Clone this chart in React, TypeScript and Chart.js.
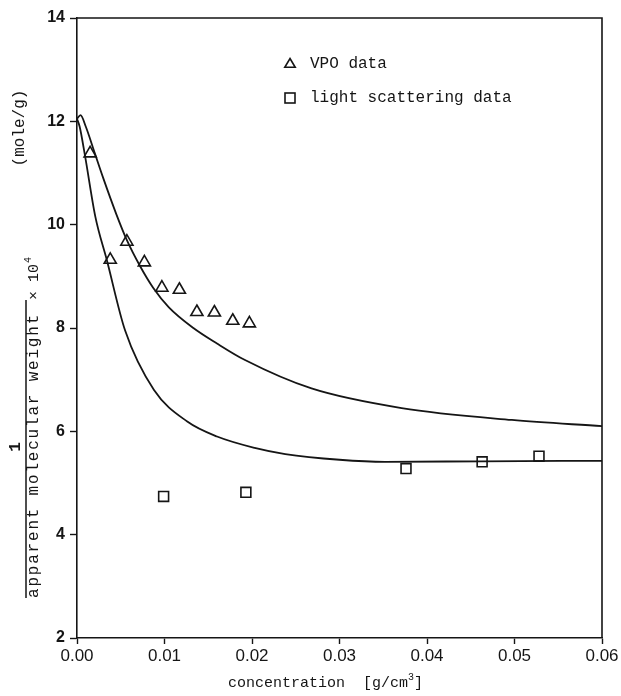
import React, { useEffect, useRef } from "react";
import { Chart, registerables } from "chart.js";

Chart.register(...registerables);

// ---- data ----
const xTickValues = [0, 0.01, 0.02, 0.03, 0.04, 0.05, 0.06];
const yTickValues = [2, 4, 6, 8, 10, 12, 14];

const vpoConc = [0.0015, 0.0038, 0.0057, 0.0077, 0.0097, 0.0117, 0.0137, 0.0157, 0.0178, 0.0197];
const vpoInvMw = [11.38, 9.32, 9.67, 9.27, 8.78, 8.74, 8.31, 8.3, 8.14, 8.09];

const lsConc = [0.0099, 0.0193, 0.0376, 0.0463, 0.0528];
const lsInvMw = [4.74, 4.82, 5.28, 5.41, 5.52];

const upperConc = [0, 0.0004, 0.001, 0.002, 0.003, 0.0045, 0.0057, 0.0072, 0.0087, 0.0105, 0.0133, 0.016, 0.0192, 0.0268, 0.0371, 0.0497, 0.06];
const upperInvMw = [12.05, 12.12, 11.9, 11.4, 10.9, 10.2, 9.7, 9.2, 8.78, 8.4, 8.0, 7.7, 7.38, 6.83, 6.45, 6.22, 6.1];

const lowerConc = [0, 0.0003, 0.0009, 0.0021, 0.0034, 0.0055, 0.0088, 0.0126, 0.016, 0.0203, 0.0238, 0.03, 0.0352, 0.0462, 0.06];
const lowerInvMw = [12.05, 11.9, 11.35, 10.15, 9.32, 7.95, 6.8, 6.19, 5.9, 5.68, 5.56, 5.45, 5.41, 5.42, 5.43];

const legendLabels = ["VPO data", "light scattering data"];
const xTitleMain = "concentration  [g/cm";
const xTitleSup = "3";
const xTitleEnd = "]";
const yTitleUnit = "(mole/g)";
const yTitleNum = "1";
const yTitleDen = "apparent molecular weight";
const yTitleFactor = "\u00d7 10";
const yTitleFactorSup = "4";

const INK = "#151515";
const MONO = '"Liberation Mono", "DejaVu Sans Mono", monospace';
const SANS = '"Liberation Sans", Arial, sans-serif';

const toPts = (xs: number[], ys: number[]) => xs.map((x, i) => ({ x, y: ys[i] }));

function drawRotated(ctx: CanvasRenderingContext2D, cx: number, cy: number, fn: () => void) {
  ctx.save();
  ctx.translate(cx, cy);
  ctx.rotate(-Math.PI / 2);
  fn();
  ctx.restore();
}

const decorPlugin = {
  id: "decor",
  afterDraw(chart: any) {
    const ctx: CanvasRenderingContext2D = chart.ctx;
    const ca = chart.chartArea;
    ctx.save();
    ctx.strokeStyle = INK;
    ctx.fillStyle = INK;
    // frame top and right
    ctx.lineWidth = 1.6;
    ctx.beginPath();
    ctx.moveTo(ca.left, ca.top);
    ctx.lineTo(ca.right, ca.top);
    ctx.lineTo(ca.right, ca.bottom);
    ctx.stroke();

    // legend
    const lx = ca.left + 213;
    const ly1 = ca.top + 46;
    const ly2 = ca.top + 80;
    ctx.lineWidth = 1.6;
    const r = 5.5;
    ctx.beginPath();
    ctx.moveTo(lx, ly1 - r);
    ctx.lineTo(lx + r * 0.95, ly1 + r * 0.6);
    ctx.lineTo(lx - r * 0.95, ly1 + r * 0.6);
    ctx.closePath();
    ctx.stroke();
    ctx.strokeRect(lx - 5, ly2 - 5, 10, 10);
    ctx.font = `16px ${MONO}`;
    ctx.textAlign = "left";
    ctx.textBaseline = "middle";
    ctx.fillText(legendLabels[0], lx + 20, ly1);
    ctx.fillText(legendLabels[1], lx + 20, ly2);

    // x title
    ctx.font = `15px ${MONO}`;
    const xStart = 228;
    const xy = 683;
    ctx.fillText(xTitleMain, xStart, xy);
    const w = ctx.measureText(xTitleMain).width;
    ctx.font = `10px ${MONO}`;
    ctx.fillText(xTitleSup, xStart + w, xy - 6);
    const ws = ctx.measureText(xTitleSup).width;
    ctx.font = `15px ${MONO}`;
    ctx.fillText(xTitleEnd, xStart + w + ws, xy);

    // y title pieces
    drawRotated(ctx, 20, 128, () => {
      ctx.font = `16px ${MONO}`;
      ctx.textAlign = "center";
      ctx.textBaseline = "middle";
      ctx.fillText(yTitleUnit, 0, 0);
    });
    drawRotated(ctx, 34, 598, () => {
      ctx.font = `16px ${MONO}`;
      (ctx as any).letterSpacing = "1.8px";
      ctx.textAlign = "left";
      ctx.textBaseline = "middle";
      ctx.fillText(yTitleDen, 0, 0);
    });
    drawRotated(ctx, 34, 300, () => {
      ctx.font = `15px ${MONO}`;
      ctx.textAlign = "left";
      ctx.textBaseline = "middle";
      ctx.fillText(yTitleFactor, 0, 0);
      const fw = ctx.measureText(yTitleFactor).width;
      ctx.font = `10px ${MONO}`;
      ctx.fillText(yTitleFactorSup, fw + 1, -6);
    });
    drawRotated(ctx, 16, 447, () => {
      ctx.font = `bold 16px ${MONO}`;
      ctx.textAlign = "center";
      ctx.textBaseline = "middle";
      ctx.fillText(yTitleNum, 0, 0);
    });
    ctx.lineWidth = 1.5;
    ctx.beginPath();
    ctx.moveTo(26, 300);
    ctx.lineTo(26, 598);
    ctx.stroke();
    ctx.restore();
  },
};

export default function App() {
  const ref = useRef<HTMLCanvasElement | null>(null);
  useEffect(() => {
    if (!ref.current) return;
    const chart = new Chart(ref.current, {
      type: "scatter",
      data: {
        datasets: [
          {
            label: "upper curve",
            data: toPts(upperConc, upperInvMw),
            showLine: true,
            borderColor: INK,
            borderWidth: 1.8,
            pointRadius: 0,
            cubicInterpolationMode: "monotone",
          } as any,
          {
            label: "lower curve",
            data: toPts(lowerConc, lowerInvMw),
            showLine: true,
            borderColor: INK,
            borderWidth: 1.8,
            pointRadius: 0,
            cubicInterpolationMode: "monotone",
          } as any,
          {
            label: legendLabels[0],
            data: toPts(vpoConc, vpoInvMw),
            pointStyle: "triangle",
            pointRadius: 7,
            borderColor: INK,
            borderWidth: 1.6,
            backgroundColor: "rgba(255,255,255,0)",
          },
          {
            label: legendLabels[1],
            data: toPts(lsConc, lsInvMw),
            pointStyle: "rect",
            pointRadius: 7,
            borderColor: INK,
            borderWidth: 1.6,
            backgroundColor: "rgba(255,255,255,0)",
          },
        ],
      },
      options: {
        animation: false,
        responsive: false,
        layout: { padding: { top: 18, right: 19, left: 0, bottom: 0 } },
        plugins: { legend: { display: false }, tooltip: { enabled: false } },
        scales: {
          x: {
            type: "linear",
            min: 0,
            max: 0.06,
            afterFit: (s: any) => { s.height = 58; },
            afterBuildTicks: (s: any) => { s.ticks = xTickValues.map((v) => ({ value: v })); },
            border: { display: true, color: INK, width: 1.6 },
            grid: { display: true, drawOnChartArea: false, drawTicks: true, tickLength: 6, tickColor: INK, tickWidth: 1.4 },
            ticks: {
              color: INK,
              padding: 2,
              font: { family: SANS, size: 17 },
              maxRotation: 0,
              callback: (v: any) => Number(v).toFixed(2),
            },
          },
          y: {
            type: "linear",
            min: 2,
            max: 14,
            afterFit: (s: any) => { s.width = 77; },
            afterBuildTicks: (s: any) => { s.ticks = yTickValues.map((v) => ({ value: v })); },
            border: { display: true, color: INK, width: 1.6 },
            grid: { display: true, drawOnChartArea: false, drawTicks: true, tickLength: 7, tickColor: INK, tickWidth: 1.4 },
            ticks: {
              color: INK,
              padding: 5,
              font: { family: SANS, size: 16, weight: "bold" },
              callback: (v: any) => String(v),
            },
          },
        },
      },
      plugins: [decorPlugin],
    });
    return () => chart.destroy();
  }, []);
  return (
    <div style={{ position: "absolute", left: 0, top: 0, width: 621, height: 696, background: "#fff" }}>
      <canvas ref={ref} width={621} height={696} />
    </div>
  );
}
